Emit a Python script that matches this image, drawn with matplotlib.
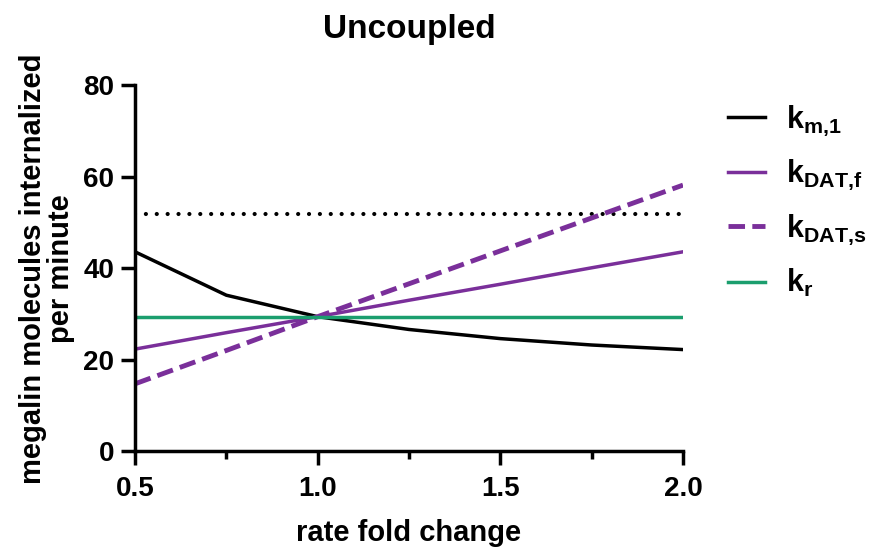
import matplotlib
matplotlib.use("Agg")
import matplotlib.pyplot as plt
from matplotlib.ticker import MultipleLocator

plt.rcParams['font.family'] = ['Liberation Sans', 'DejaVu Sans']
plt.rcParams['font.weight'] = 'bold'
plt.rcParams['mathtext.fontset'] = 'custom'
plt.rcParams['mathtext.rm'] = 'Liberation Sans:bold'
plt.rcParams['mathtext.bf'] = 'Liberation Sans:bold'
plt.rcParams['mathtext.it'] = 'Liberation Sans:bold'
plt.rcParams['mathtext.default'] = 'bf'

fold = [0.5, 0.75, 1.0, 1.25, 1.5, 1.75, 2.0]
k_m1 = [43.6, 34.1, 29.4, 26.6, 24.6, 23.2, 22.2]
k_dat_f = [22.3, 25.9, 29.4, 33.0, 36.5, 40.1, 43.6]
k_dat_s = [14.7, 22.0, 29.4, 36.6, 43.8, 51.0, 58.2]
k_r = [29.4, 29.4, 29.4, 29.4, 29.4, 29.4, 29.4]
baseline_x = [0.5, 2.0]
baseline_y = [51.8, 51.8]
labels = [r'$k_{m{,}1}$', r'$k_{DAT{,}f}$', r'$k_{DAT{,}s}$', r'$k_r$']

purple = '#7A2F9A'
green = '#1B9E6E'

fig = plt.figure(figsize=(8.75, 5.52), dpi=100)
ax = fig.add_axes([135/875, 1-451/552, (683-135)/875, (451-85.5)/552])

ax.plot(baseline_x, baseline_y, color='black', lw=3.0, linestyle=(0, (0.01, 2.6)),
        dash_capstyle='round')
ax.plot(fold, k_m1, color='black', lw=2.5, label=labels[0])
ax.plot(fold, k_dat_f, color=purple, lw=2.5, label=labels[1])
ax.plot(fold, k_dat_s, color=purple, lw=3.5, linestyle=(0, (3.4, 1.5)), label=labels[2])
ax.plot(fold, k_r, color=green, lw=2.5, label=labels[3])

ax.set_xlim(0.5, 2.0)
ax.set_ylim(0, 80)
ax.xaxis.set_minor_locator(MultipleLocator(0.25))
ax.yaxis.set_major_locator(MultipleLocator(20))
ax.set_xticks([0.5, 1.0, 1.5, 2.0])
ax.set_xticklabels(['0.5', '1.0', '1.5', '2.0'])

for s in ['top', 'right']:
    ax.spines[s].set_visible(False)
for s in ['left', 'bottom']:
    ax.spines[s].set_linewidth(2.5)
    ax.spines[s].set_capstyle('projecting')
ax.tick_params(axis='both', which='major', length=10, width=2.5, labelsize=20)
ax.tick_params(axis='x', which='major', pad=8)
ax.tick_params(axis='y', which='major', pad=5)
ax.tick_params(axis='x', which='minor', length=6, width=2.5)
for lab in ax.get_xticklabels() + ax.get_yticklabels():
    lab.set_fontweight('bold')

ax.set_title('Uncoupled', fontsize=24, fontweight='bold', pad=34)
ax.set_xlabel('rate fold change', fontsize=21, fontweight='bold', labelpad=12)
ax.set_ylabel('megalin molecules internalized\nper minute', fontsize=21, fontweight='bold',
              labelpad=6, linespacing=1.0)

leg = ax.legend(loc='upper left', bbox_to_anchor=((728-135)/548, 0.952), frameon=False,
                fontsize=22, handlelength=1.2, handletextpad=0.7, labelspacing=0.66,
                borderpad=0, borderaxespad=0)

fig.savefig('out.png', dpi=100)
